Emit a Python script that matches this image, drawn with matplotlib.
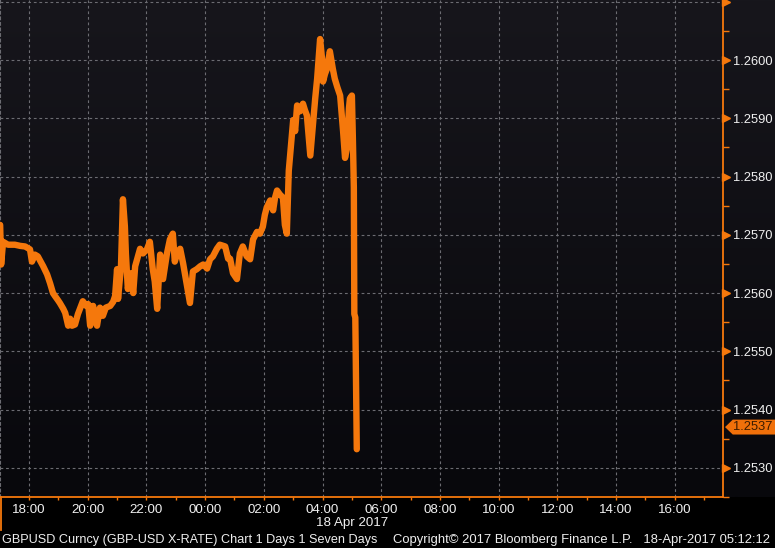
import matplotlib
matplotlib.use('Agg')
import matplotlib.pyplot as plt
import matplotlib.dates as mdates
import numpy as np
import pandas as pd
from matplotlib.patches import Polygon
from matplotlib.lines import Line2D
from matplotlib.transforms import blended_transform_factory

# GBPUSD intraday, minutes after 17:00 on 17 Apr 2017
minutes = [1, 3, 7, 17, 31, 42, 52, 62, 66, 72, 78, 89, 97, 103, 109, 113, 119, 123,
           130, 134, 140, 144, 148, 154, 160, 164, 170, 177, 181, 185, 191, 195, 199,
           205, 211, 217, 226, 232, 236, 240, 242, 248, 252, 256, 258, 262, 268, 273,
           277, 281, 287, 293, 301, 307, 313, 317, 322, 328, 334, 342, 348, 354, 358,
           364, 369, 375, 383, 389, 395, 403, 410, 416, 420, 424, 430, 436, 444, 450,
           461, 467, 471, 477, 485, 491, 497, 505, 512, 518, 526, 532, 538, 542, 546,
           553, 559, 563, 567, 573, 579, 583, 587, 591, 595, 600, 604, 608, 614, 620,
           624, 628, 635, 641, 645, 649, 655, 659, 661, 665, 669, 675, 681, 685, 690,
           696, 702, 706, 710, 714, 716, 720, 722, 724, 725, 727, 730]
prices = [1.25717, 1.25649, 1.25688, 1.25683, 1.25683, 1.25681, 1.25680, 1.25675,
          1.25654, 1.25666, 1.25663, 1.25646, 1.25632, 1.25617, 1.25600, 1.25595,
          1.25588, 1.25583, 1.25573, 1.25566, 1.25544, 1.25556, 1.25544, 1.25546,
          1.25564, 1.25573, 1.25586, 1.25578, 1.25581, 1.25544, 1.25578, 1.25561,
          1.25544, 1.25575, 1.25561, 1.25575, 1.25578, 1.25585, 1.25595, 1.25641,
          1.25590, 1.25646, 1.25761, 1.25714, 1.25668, 1.25607, 1.25634, 1.25600,
          1.25646, 1.25658, 1.25676, 1.25668, 1.25675, 1.25688, 1.25641, 1.25620,
          1.25573, 1.25666, 1.25624, 1.25668, 1.25692, 1.25702, 1.25654, 1.25671,
          1.25676, 1.25651, 1.25612, 1.25583, 1.25637, 1.25641, 1.25646, 1.25649,
          1.25646, 1.25642, 1.25658, 1.25663, 1.25676, 1.25683, 1.25680, 1.25659,
          1.25659, 1.25634, 1.25624, 1.25668, 1.25680, 1.25663, 1.25658, 1.25692,
          1.25705, 1.25702, 1.25714, 1.25734, 1.25747, 1.25759, 1.25742, 1.25764,
          1.25776, 1.25769, 1.25764, 1.25717, 1.25702, 1.25810, 1.25849, 1.25897,
          1.25878, 1.25922, 1.25912, 1.25925, 1.25914, 1.25905, 1.25836, 1.25895,
          1.25934, 1.25968, 1.26036, 1.26002, 1.25963, 1.25976, 1.25985, 1.26015,
          1.25985, 1.25968, 1.25954, 1.25939, 1.25878, 1.25832, 1.25849, 1.25917,
          1.25934, 1.25939, 1.25866, 1.25781, 1.25564, 1.25558, 1.25332]
last_price = 1.2537
y_ticks = [1.2530, 1.2540, 1.2550, 1.2560, 1.2570, 1.2580, 1.2590, 1.2600, 1.2610]
y_minor = [1.2525, 1.2535, 1.2545, 1.2555, 1.2565, 1.2575, 1.2585, 1.2595, 1.2605]
footer_left = 'GBPUSD Curncy (GBP-USD X-RATE) Chart 1 Days 1 Seven Days'
footer_right = 'Copyright\u00a9 2017 Bloomberg Finance L.P.   18-Apr-2017 05:12:12'

start = pd.Timestamp('2017-04-17 17:00')
times = (start + pd.to_timedelta(minutes, unit='m')).to_pydatetime()

ORANGE = '#f5780c'
GRID = '#6c6c72'
plt.rcParams['font.family'] = ['Liberation Sans', 'DejaVu Sans']

fig = plt.figure(figsize=(7.75, 5.48), dpi=100, facecolor='black')
ax_rect = [0, 51 / 548, 723 / 775, 497 / 548]

# background gradient behind the plot + right label strip
bg = fig.add_axes([0, 51 / 548, 1, 497 / 548], zorder=0)
grad = np.linspace(0, 1, 256).reshape(-1, 1)
top_c = np.array([0x17, 0x16, 0x1c]) / 255
bot_c = np.array([0x08, 0x08, 0x0c]) / 255
img = top_c[None, None, :] * (1 - grad[:, :, None]) + bot_c[None, None, :] * grad[:, :, None]
bg.imshow(img, aspect='auto', extent=[0, 1, 0, 1])
bg.axis('off')

ax = fig.add_axes(ax_rect, zorder=1)
ax.patch.set_alpha(0)

ax.plot(times, prices, color=ORANGE, lw=4.6, solid_joinstyle='round',
        solid_capstyle='round', zorder=3)

ax.set_xlim(start + pd.Timedelta(minutes=0.7), start + pd.Timedelta(minutes=1478.6))
ax.set_ylim(1.25261, 1.26103)

ax.xaxis.set_major_locator(mdates.HourLocator(byhour=range(0, 24, 2)))
ax.xaxis.set_minor_locator(mdates.HourLocator())
ax.xaxis.set_major_formatter(mdates.DateFormatter('%H:%M'))

ax.yaxis.tick_right()
ax.set_yticks(y_ticks)
ax.set_yticklabels(['%.4f' % v if v < 1.2605 else '' for v in y_ticks])
ax.set_yticks(y_minor, minor=True)

ax.tick_params(axis='x', which='both', colors=ORANGE, length=2.5, width=1,
               direction='out', labelcolor='#f0f0f0', labelsize=9.6, pad=2.5)
ax.tick_params(axis='y', which='major', length=0, pad=7.5, labelcolor='#f0f0f0',
               labelsize=9.3)
ax.tick_params(axis='y', which='minor', colors=ORANGE, length=4.5, width=1,
               direction='out')

ax.grid(True, which='major', color=GRID, lw=0.8, linestyle=(0, (2.5, 2.5)))

ax.spines['top'].set_visible(False)
ax.spines['right'].set_color(ORANGE)
ax.spines['bottom'].set_color(ORANGE)
ax.spines['right'].set_linewidth(1.3)
ax.spines['bottom'].set_linewidth(1.3)
ax.spines['left'].set_color(GRID)
ax.spines['left'].set_linestyle((0, (2.5, 2.5)))

# triangle markers on the right axis for the major ticks
tr = blended_transform_factory(ax.transAxes, ax.transData)
ax.plot([1.004] * len(y_ticks), y_ticks, transform=tr, ls='none', marker='>',
        ms=6, color=ORANGE, clip_on=False, zorder=4)

# last price tag
h = 0.015 * (ax.get_ylim()[1] - ax.get_ylim()[0])
tag = Polygon([[1.0028, last_price], [1.0135, last_price + h], [1.09, last_price + h],
               [1.09, last_price - h], [1.0135, last_price - h]],
              closed=True, transform=tr, facecolor='#f0700a', edgecolor='none',
              clip_on=False, zorder=5)
ax.add_patch(tag)
ax.text(1.0138, last_price, '%.4f' % last_price, transform=tr, ha='left', va='center',
        fontsize=9.3, color='#3d1c00', zorder=6, clip_on=False)

# date under the axis
trx = blended_transform_factory(ax.transData, ax.transAxes)
ax.text(mdates.date2num(pd.Timestamp('2017-04-18 05:00').to_pydatetime()), -0.053,
        '18 Apr 2017', transform=trx, ha='center', va='center', fontsize=9.6,
        color='#f0f0f0')

# left border of the time axis box
fig.add_artist(Line2D([0.5 / 775, 0.5 / 775], [1 - 497 / 548, 1 - 530 / 548],
                      color=ORANGE, lw=1.3))

fig.text(2 / 775, 1 - 540 / 548, footer_left, ha='left', va='center', fontsize=9.1,
         color='#eeeeee')
fig.text(770 / 775, 1 - 540 / 548, footer_right, ha='right', va='center', fontsize=9.4,
         color='#eeeeee')

fig.savefig('out.png', dpi=100, facecolor='black')
